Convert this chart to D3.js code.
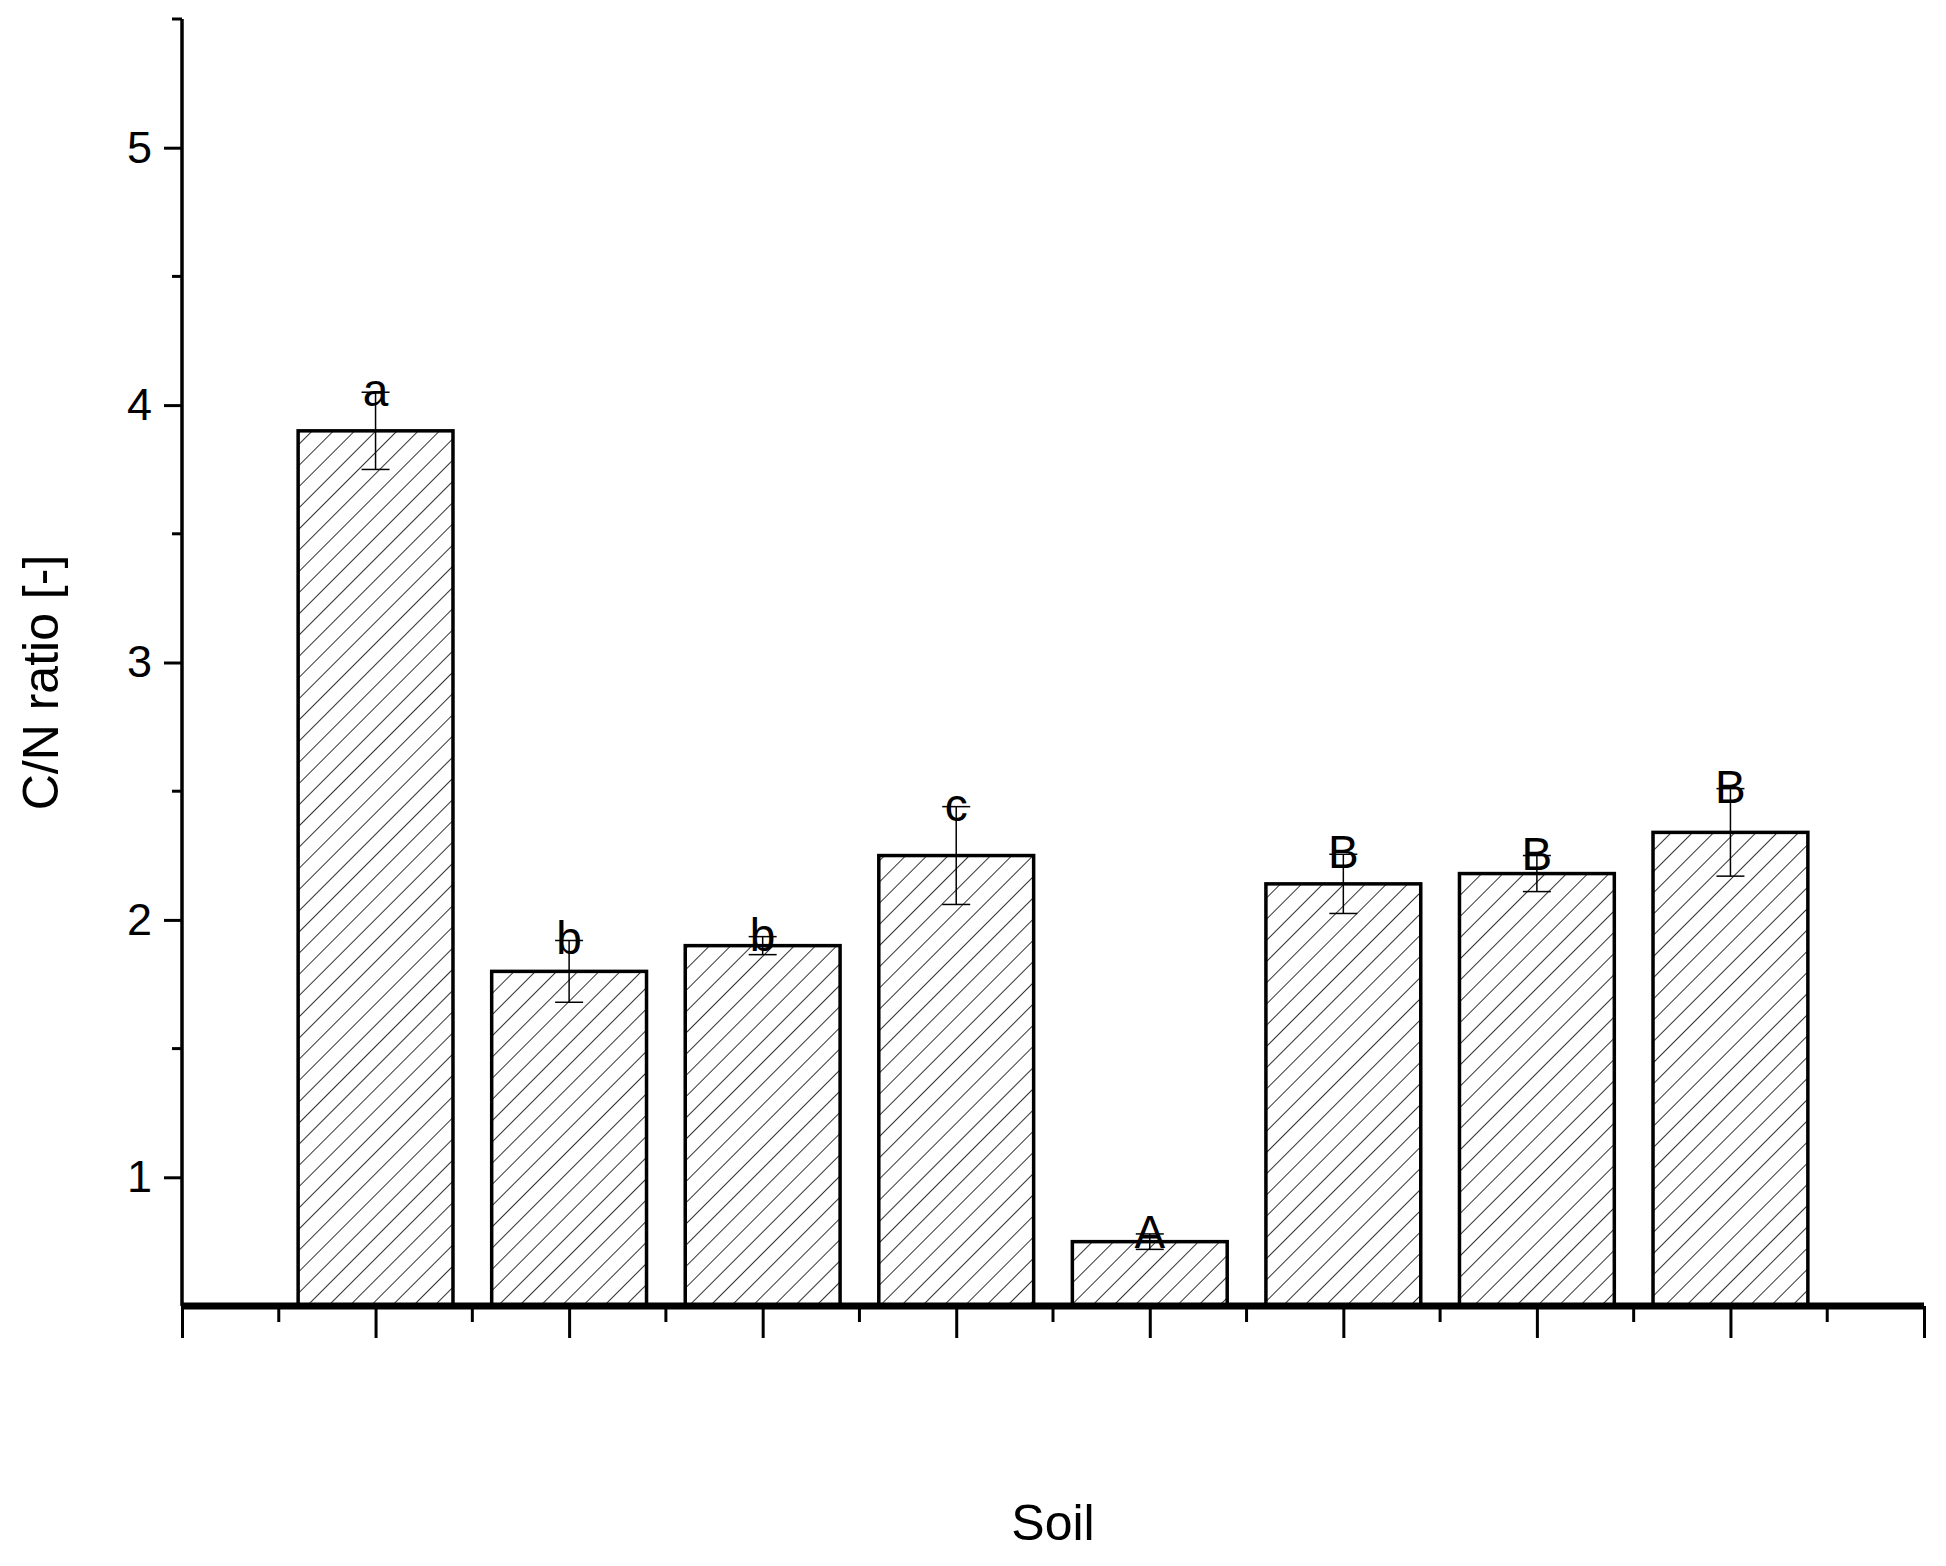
<!DOCTYPE html>
<html><head><meta charset="utf-8">
<script src="https://cdn.jsdelivr.net/npm/d3@7"></script>
<style>body{margin:0;background:#fff}</style>
</head><body>
<div id="main"></div>
<script>
const soils = ["S1A", "S1B", "S1C", "S1D", "S2A", "S2B", "S2C", "S2D"];
const ratio = [3.9, 1.8, 1.9, 2.25, 0.75, 2.14, 2.18, 2.34];
const err = [0.15, 0.12, 0.035, 0.19, 0.03, 0.115, 0.07, 0.17];
const groups = ["a", "b", "b", "c", "A", "B", "B", "B"];
const xLabels = ["S1A", "S1B", "S1C", "S1D", "S2A", "S2B", "S2C", "S2D", "--"];
const yTicks = [1, 2, 3, 4, 5];

const W = 1946, H = 1566;
const mLeft = 182, mRight = 1924, mTop = 19, mBottom = 1306;

let svg = d3.select("#main").append("svg").attr("width", W).attr("height", H)
    .style("font-family", "'Liberation Sans', Arial, sans-serif");

let x = d3.scaleLinear().domain([0, 9]).range([mLeft, mRight]);
let y = d3.scaleLinear().domain([0.5, 5.5]).range([mBottom, mTop]);
const bw = (x(1) - x(0)) * 0.8;

svg.append("defs").append("pattern")
    .attr("id", "hatch").attr("patternUnits", "userSpaceOnUse")
    .attr("width", 15).attr("height", 15)
    .attr("patternTransform", "rotate(45)")
    .append("line").attr("x1", 0).attr("y1", 0).attr("x2", 0).attr("y2", 15)
    .attr("stroke", "#000").attr("stroke-width", 1.6);

const data = soils.map((s, i) => ({s, v: ratio[i], e: err[i], g: groups[i], i: i + 1}));

const bar = svg.append("g").selectAll("g").data(data).join("g");
bar.append("rect")
    .attr("x", d => x(d.i) - bw / 2).attr("width", bw)
    .attr("y", d => y(d.v)).attr("height", d => mBottom - y(d.v))
    .attr("fill", "url(#hatch)").attr("stroke", "#000").attr("stroke-width", 3.5);
bar.append("line")
    .attr("x1", d => x(d.i)).attr("x2", d => x(d.i))
    .attr("y1", d => y(d.v + d.e)).attr("y2", d => y(d.v - d.e))
    .attr("stroke", "#000").attr("stroke-width", 1.5);
bar.selectAll("line.cap").data(d => [[d.i, d.v + d.e], [d.i, d.v - d.e]]).join("line")
    .attr("class", "cap")
    .attr("x1", d => x(d[0]) - 14).attr("x2", d => x(d[0]) + 14)
    .attr("y1", d => y(d[1])).attr("y2", d => y(d[1]))
    .attr("stroke", "#000").attr("stroke-width", 1.5);
bar.append("text")
    .attr("x", d => x(d.i)).attr("y", d => y(d.v + d.e) + 14)
    .attr("text-anchor", "middle").attr("font-size", 46)
    .text(d => d.g);

// y axis
const ya = svg.append("g").attr("transform", `translate(${mLeft},0)`)
    .call(d3.axisLeft(y).tickValues(yTicks).tickSize(18).tickPadding(12).tickFormat(d3.format("d")));
ya.select(".domain").attr("stroke-width", 3.5).attr("d", `M0,${mTop}V${mBottom}`);
ya.selectAll(".tick line").attr("stroke-width", 3);
ya.selectAll(".tick text").attr("font-size", 45).attr("font-family", "'Liberation Sans', Arial, sans-serif");
ya.selectAll("line.minor").data(d3.range(1.5, 5.6, 1)).join("line").attr("class", "minor")
    .attr("x1", -10).attr("x2", 0).attr("y1", d => y(d)).attr("y2", d => y(d))
    .attr("stroke", "#000").attr("stroke-width", 3);

// x axis
const xa = svg.append("g").attr("transform", `translate(0,${mBottom})`)
    .call(d3.axisBottom(x).tickValues(d3.range(0, 10)).tickSize(32).tickFormat(""));
xa.select(".domain").attr("stroke-width", 7).attr("d", `M${mLeft},0H${mRight}`);
xa.selectAll(".tick line").attr("stroke-width", 3);
xa.selectAll("line.minor").data(d3.range(0.5, 9, 1)).join("line").attr("class", "minor")
    .attr("x1", d => x(d)).attr("x2", d => x(d)).attr("y1", 0).attr("y2", 16)
    .attr("stroke", "#000").attr("stroke-width", 3);
xa.selectAll("text.lab").data(xLabels).join("text").attr("class", "lab")
    .attr("transform", (d, i) => `translate(${x(i + 1) + 14},${80}) rotate(-45)`)
    .attr("text-anchor", "end").attr("font-size", 45).text(d => d);

svg.append("text").attr("x", (x(0) + x(9)) / 2).attr("y", 1540)
    .attr("text-anchor", "middle").attr("font-size", 50).text("Soil");
svg.append("text").attr("transform", `translate(58,${(mTop + mBottom) / 2 + 20}) rotate(-90)`)
    .attr("text-anchor", "middle").attr("font-size", 50).text("C/N ratio [-]");
</script>
</body></html>
